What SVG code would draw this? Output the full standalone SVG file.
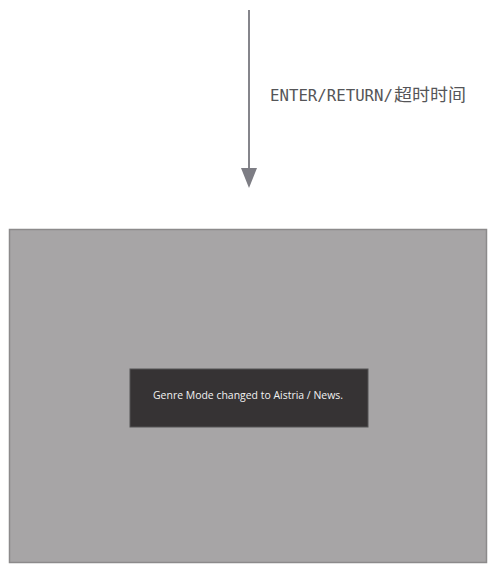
<svg xmlns="http://www.w3.org/2000/svg" width="490" height="565" viewBox="0 0 490 565">
<style>
.edge{stroke:#85858b;stroke-width:2;fill:none}
.lbl{font-family:"DejaVu Sans Mono","Liberation Mono","Noto Sans CJK SC",monospace;font-size:16.5px;fill:#555558}
.cjk{font-family:"Noto Sans CJK SC",sans-serif;font-size:17px}
.msg{font-family:"Open Sans","Noto Sans",sans-serif;font-size:10.5px;fill:#f2f2f2}
</style>
<defs>
<marker id="ah" markerUnits="userSpaceOnUse" markerWidth="20" markerHeight="16" refX="0" refY="8" orient="auto" viewBox="0 0 20 16">
<path d="M0,0 L20,8 L0,16 Z" fill="#7d7d84"/>
</marker>
</defs>
<rect width="490" height="565" fill="#ffffff"/>
<g id="connectors">
<line class="edge" x1="249" y1="10" x2="249" y2="168" marker-end="url(#ah)"/>
<text class="lbl" x="270" y="101" textLength="123" lengthAdjust="spacingAndGlyphs">ENTER/RETURN/</text>
<text class="lbl cjk" x="394" y="101" textLength="72" lengthAdjust="spacingAndGlyphs">超时时间</text>
</g>
<g id="screen">
<rect x="9.5" y="229.5" width="477" height="333" fill="#a7a5a6" stroke="#8c8a8b" stroke-width="1.5"/>
</g>
<g id="toast">
<rect x="130" y="369" width="238" height="58" fill="#363334" stroke="#555" stroke-width="1"/>
<text class="msg" x="248" y="399" text-anchor="middle" textLength="190" lengthAdjust="spacingAndGlyphs">Genre Mode changed to Aistria / News.</text>
</g>
</svg>
